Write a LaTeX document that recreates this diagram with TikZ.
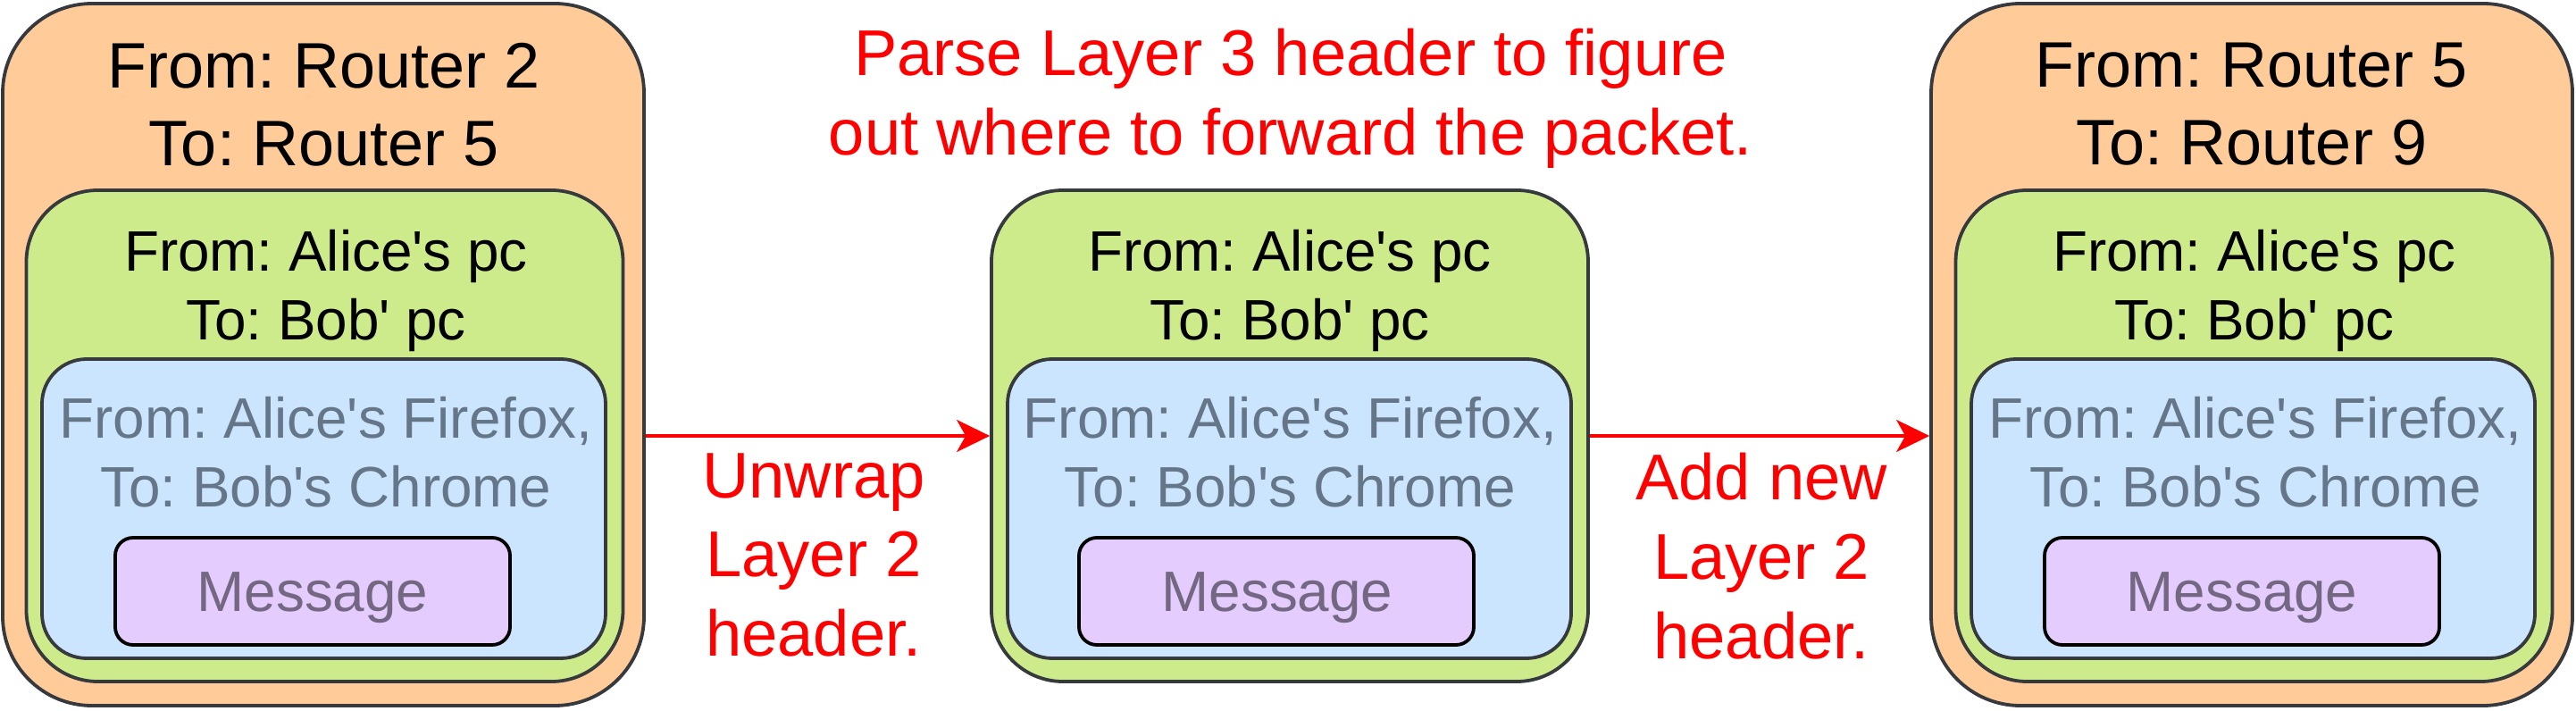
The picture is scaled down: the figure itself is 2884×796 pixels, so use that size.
\documentclass[tikz,border=0pt]{standalone}
\usepackage{fontspec}
\setmainfont{Liberation Sans}[Ligatures=TeXOff]
\usetikzlibrary{arrows.meta}
\definecolor{orangefill}{HTML}{FFCC99}
\definecolor{greenfill}{HTML}{CDEB8B}
\definecolor{bluefill}{HTML}{CCE5FF}
\definecolor{purplefill}{HTML}{E5CCFF}
\definecolor{strokegray}{HTML}{36393D}
\definecolor{bluetext}{HTML}{647687}
\definecolor{purpletext}{HTML}{736782}
\frenchspacing
\begin{document}
\begin{tikzpicture}[x=0.5pt,y=-0.5pt,
  box/.style={draw=strokegray, line width=1.9pt, rectangle, inner sep=0pt},
  l3box/.style={box, fill=orangefill, rounded corners=50pt, minimum width=359pt, minimum height=393pt},
  l2box/.style={box, fill=greenfill, rounded corners=40pt, minimum width=334pt, minimum height=275pt},
  l4box/.style={box, fill=bluefill, rounded corners=25pt, minimum width=315.5pt, minimum height=167.5pt},
  msgbox/.style={box, draw=black, fill=purplefill, rounded corners=10pt, minimum width=221pt, minimum height=60pt},
  big/.style={font=\fontsize{36}{43.5}\selectfont, align=center, inner sep=0pt, anchor=north},
  mid/.style={font=\fontsize{31.9}{38.3}\selectfont, align=center, inner sep=0pt, anchor=north},
  note/.style={font=\fontsize{36.2}{44.3}\selectfont, align=center, inner sep=0pt, anchor=north, text=red},
  flow/.style={draw=red, line width=1.65pt, -{Stealth[length=18.5pt, width=18pt, inset=5pt]}}
]
\useasboundingbox (0,0) rectangle (2884,796);

% left packet
\node[l3box] (o1) at (362,397) {};
\node[l2box] (g1) at (363.5,488) {};
\node[l4box] (b1) at (362.5,569.5) {};
\node[msgbox] (m1) at (350,662) {};
\node[big] (t1) at (363,48) {From: Router 2\\To: Router 5};
\node[mid] (a1) at (365,257) {From: Alice's pc\\To: Bob' pc};
\node[mid, text=bluetext] (f1) at (365,444) {From: Alice's Firefox,\\To: Bob's Chrome};
\node[mid, text=purpletext] (s1) at (350,640) {Message};

% middle packet
\node[l2box] (g2) at (1444,488) {};
\node[l4box] (b2) at (1443.5,569.5) {};
\node[msgbox] (m2) at (1429,662) {};
\node[mid] (a2) at (1444,257) {From: Alice's pc\\To: Bob' pc};
\node[mid, text=bluetext] (f2) at (1444.5,444) {From: Alice's Firefox,\\To: Bob's Chrome};
\node[mid, text=purpletext] (s2) at (1430,640) {Message};

% right packet
\node[l3box] (o3) at (2521,397) {};
\node[l2box] (g3) at (2523.5,488) {};
\node[l4box] (b3) at (2522.5,569.5) {};
\node[msgbox] (m3) at (2510,662) {};
\node[big] (t3) at (2521,48) {From: Router 5\\To: Router 9};
\node[mid] (a3) at (2524,257) {From: Alice's pc\\To: Bob' pc};
\node[mid, text=bluetext] (f3) at (2525,444) {From: Alice's Firefox,\\To: Bob's Chrome};
\node[mid, text=purpletext] (s3) at (2510,640) {Message};

% notes
\node[note] (parse) at (1445,32) {Parse Layer 3 header to figure\\out where to forward the packet.};
\node[note] (unwrap) at (911,507) {Unwrap\\Layer 2\\header.};
\node[note] (addnew) at (1972,507) {Add new\\Layer 2\\header.};

% connectors
\draw[flow] (o1.east |- g2.west) -- (g2.west);
\draw[flow] (g2.east) -- (o3.west |- g2.east);
\end{tikzpicture}
\end{document}
